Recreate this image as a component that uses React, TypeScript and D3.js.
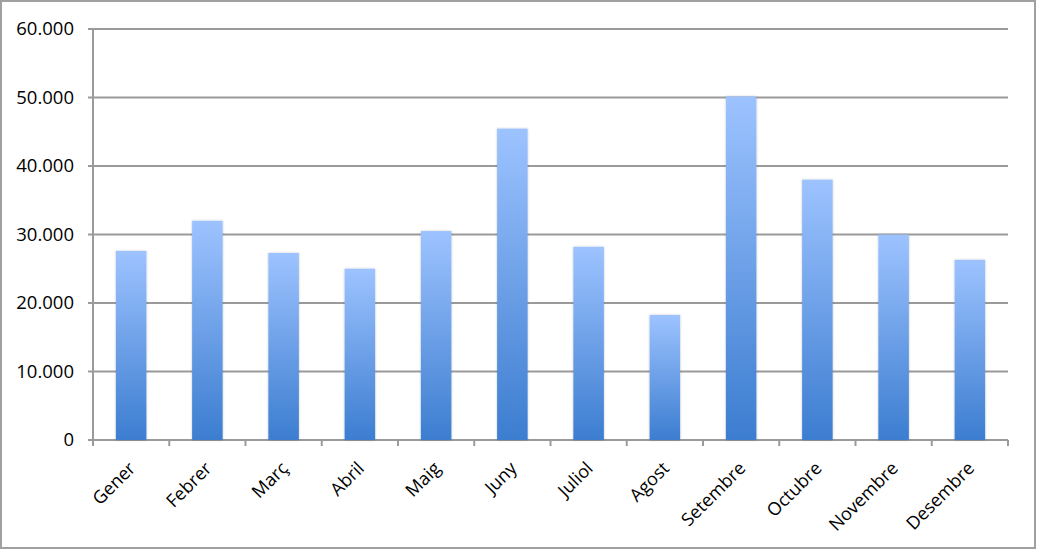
import React from "react";
import * as d3 from "d3";

const months = ["Gener", "Febrer", "Març", "Abril", "Maig", "Juny", "Juliol", "Agost", "Setembre", "Octubre", "Novembre", "Desembre"];
const values = [27600, 32000, 27300, 25000, 30500, 45450, 28200, 18250, 50150, 38000, 30000, 26300];
const yTicks = [0, 10000, 20000, 30000, 40000, 50000, 60000];

const W = 1037;
const H = 550;
const left = 93;
const right = 1008;
const top = 29;
const bottom = 440;

export default function App() {
  const x = d3.scaleBand<string>().domain(months).range([left, right]).paddingInner(0.6).paddingOuter(0.3);
  const xb = d3.scaleBand<string>().domain(months).range([left, right]);
  const y = d3.scaleLinear().domain([0, 60000]).range([bottom, top]);
  const fmt = (v: number) => (v === 0 ? "0" : d3.format(",")(v).replace(/,/g, "."));
  const font = "'Open Sans', 'DejaVu Sans', sans-serif";
  return (
    <svg width={W} height={H} style={{ position: "absolute", left: 0, top: 0 }} fontFamily={font}>
      <defs>
        <linearGradient id="barGrad" x1="0" y1="0" x2="0" y2="1">
          <stop offset="0%" stopColor="#9dc3ff" />
          <stop offset="100%" stopColor="#3c7dd0" />
        </linearGradient>
        <filter id="shadow" x="-20%" y="-5%" width="140%" height="110%">
          <feGaussianBlur in="SourceAlpha" stdDeviation="1.2" />
          <feOffset dx="0" dy="0" result="b" />
          <feComponentTransfer><feFuncA type="linear" slope="0.25" /></feComponentTransfer>
          <feMerge><feMergeNode /><feMergeNode in="SourceGraphic" /></feMerge>
        </filter>
      </defs>
      <rect x={1} y={1} width={W - 3} height={H - 3} fill="#fff" stroke="#a0a0a0" strokeWidth={2} />
      {yTicks.map((t) => (
        <g key={t}>
          <line x1={left - 5} x2={right} y1={y(t)} y2={y(t)} stroke="#9a9a9a" strokeWidth={2} />
          <text x={74} y={y(t)} dy="0.35em" textAnchor="end" fontSize={18.5} fill="#000">{fmt(t)}</text>
        </g>
      ))}
      <line x1={left} x2={left} y1={top} y2={bottom} stroke="#9a9a9a" strokeWidth={2} />
      {months.map((m) => (
        <line key={"t" + m} x1={xb(m)!} x2={xb(m)!} y1={bottom} y2={bottom + 6} stroke="#9a9a9a" strokeWidth={2} />
      ))}
      <line x1={right} x2={right} y1={bottom} y2={bottom + 6} stroke="#9a9a9a" strokeWidth={2} />
      {months.map((m, i) => (
        <rect key={m} x={x(m)!} y={y(values[i])} width={x.bandwidth()} height={bottom - y(values[i])} fill="url(#barGrad)" filter="url(#shadow)" />
      ))}
      {months.map((m) => {
        const cx = xb(m)! + xb.bandwidth() / 2 + 1;
        const cy = bottom + 25;
        return (
          <text key={"l" + m} x={cx} y={cy} transform={`rotate(-45 ${cx} ${cy})`} textAnchor="end" dy="0.35em" fontSize={18} fill="#000">{m}</text>
        );
      })}
    </svg>
  );
}
